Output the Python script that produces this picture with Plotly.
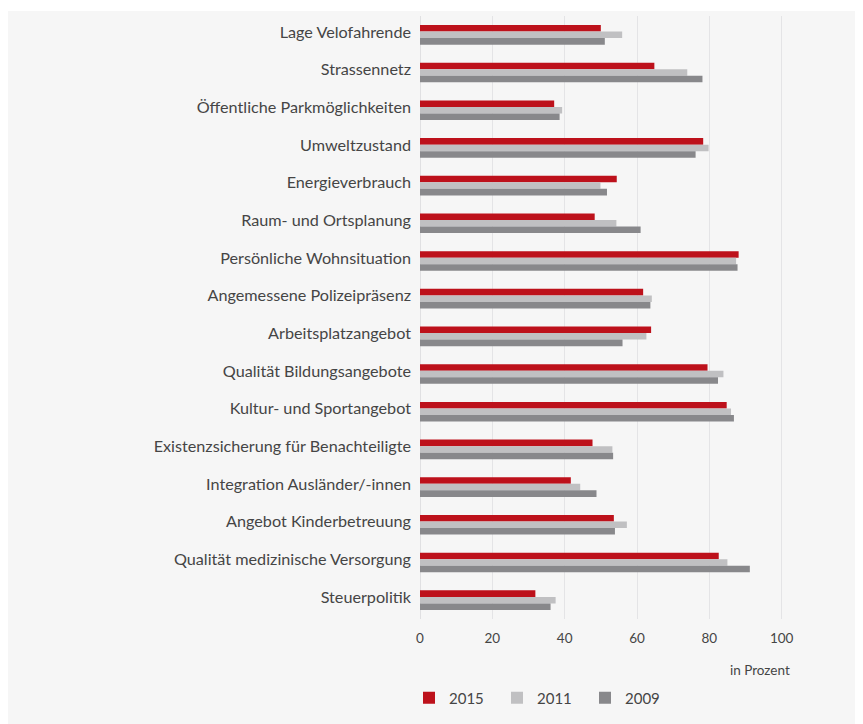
import plotly.graph_objects as go

categories = [
    "Lage Velofahrende", "Strassennetz", "Öffentliche Parkmöglichkeiten",
    "Umweltzustand", "Energieverbrauch", "Raum- und Ortsplanung",
    "Persönliche Wohnsituation", "Angemessene Polizeipräsenz",
    "Arbeitsplatzangebot", "Qualität Bildungsangebote",
    "Kultur- und Sportangebot", "Existenzsicherung für Benachteiligte",
    "Integration Ausländer/-innen", "Angebot Kinderbetreuung",
    "Qualität medizinische Versorgung", "Steuerpolitik",
]
v2015 = [50.0, 64.8, 37.1, 78.3, 54.4, 48.3, 88.1, 61.7, 63.9, 79.5, 84.8, 47.7, 41.7, 53.6, 82.6, 31.9]
v2011 = [55.9, 73.9, 39.3, 79.8, 49.9, 54.3, 87.4, 64.1, 62.6, 83.9, 86.0, 53.2, 44.3, 57.2, 85.0, 37.5]
v2009 = [51.1, 78.1, 38.6, 76.2, 51.7, 61.0, 87.8, 63.7, 56.0, 82.4, 86.8, 53.4, 48.8, 53.9, 91.2, 36.1]
series_names = ["2015", "2011", "2009"]
tick_vals = [0, 20, 40, 60, 80, 100]

colors = ["#bd111b", "#c0c0c2", "#88888b"]
FONT = "Lato"

fig = go.Figure()
for name, vals, col in zip(series_names, [v2015, v2011, v2009], colors):
    fig.add_trace(go.Bar(
        y=categories, x=vals, name=name, orientation="h",
        marker=dict(color=col, line=dict(width=0)),
    ))

# page has an 8px body margin; figure coordinates are page coordinates - 8
OFF = 8
W, H = 863 - OFF, 724 - OFF
ml, mr, mt, mb = 420 - OFF, 9, 16 - OFF, 105
ph = H - mt - mb
pw = W - ml - mr


def py(page_pix):
    # page pixel y -> paper y
    return (H - mb - (page_pix - OFF)) / ph


fig.update_layout(
    width=W, height=H,
    margin=dict(l=ml, r=mr, t=mt, b=mb, autoexpand=False),
    paper_bgcolor="#f6f6f6", plot_bgcolor="#f6f6f6",
    barmode="group", bargap=0.48, bargroupgap=0,
    font=dict(family=FONT, color="#454545", size=15),
    xaxis=dict(range=[0, 120], tickvals=tick_vals, showgrid=True,
               gridcolor="#e4e4e6", gridwidth=1, zeroline=True,
               zerolinecolor="#e0e0e2", zerolinewidth=1,
               tickfont=dict(size=13.5, color="#454545"), ticks="",
               ticklabelstandoff=9, automargin=False),
    yaxis=dict(autorange="reversed", showgrid=False, ticks="",
               tickfont=dict(size=16.2, color="#454545"),
               ticklabelstandoff=8, ticklabelshift=3, automargin=False),
    showlegend=True,
    legend=dict(orientation="h", x=-11 / pw, xanchor="left",
                y=py(698), yanchor="middle",
                font=dict(size=15, color="#454545"),
                bgcolor="rgba(0,0,0,0)", traceorder="normal",
                entrywidth=43),
    annotations=[dict(text="in Prozent", x=100, xref="x", xanchor="right",
                      xshift=10,
                      y=py(670), yref="paper", yanchor="middle",
                      showarrow=False, font=dict(size=13.5, color="#454545"))],
    shapes=[
        dict(type="rect", xref="paper", yref="paper",
             x0=-ml / pw - 0.01, x1=1.05,
             y0=py(11), y1=py(0),
             fillcolor="white", line=dict(width=0), layer="above"),
    ],
)

fig.write_html("out.html")
